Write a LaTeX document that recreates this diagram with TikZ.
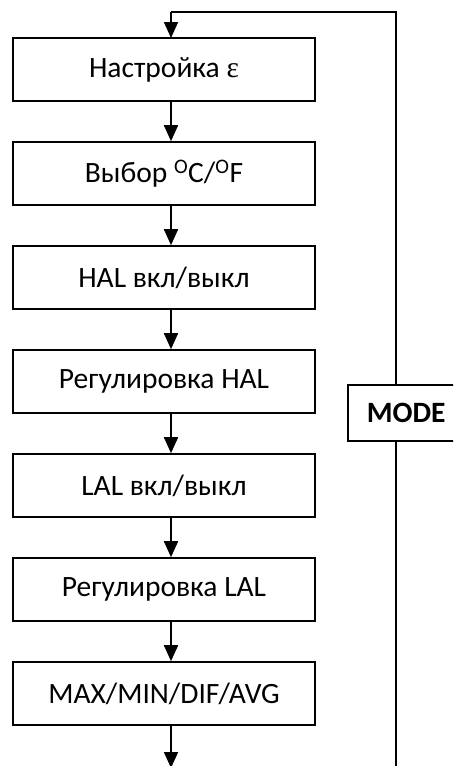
\documentclass[tikz,border=0pt]{standalone}
\usepackage{fontspec}
\setmainfont{Carlito}
\newfontfamily\epsfont{Liberation Serif}
\usetikzlibrary{arrows.meta}
\begin{document}
\begin{tikzpicture}[x=1pt,y=-1pt,
  stepbox/.style={draw,line width=1.6pt,fill=white,minimum width=302pt,minimum height=63pt,inner sep=0pt,font=\fontsize{29.5}{34}\selectfont},
  modebox/.style={draw,line width=1.6pt,fill=white,minimum height=56pt,inner sep=0pt,font=\bfseries\fontsize{29.5}{34}\selectfont},
  flow/.style={line width=1.8pt,-{Triangle[length=16pt,width=14pt]}},
  plain/.style={line width=1.6pt}]
\useasboundingbox (0,0) rectangle (453,766);
\clip (0,0) rectangle (453,766);
\node[stepbox] (b1) at (164,69.5) {Настройка {\epsfont ε}};
\node[stepbox] (b2) at (164,173.5) {Выбор \textsuperscript{O}C/\textsuperscript{O}F};
\node[stepbox] (b3) at (164,277.5) {HAL вкл/выкл};
\node[stepbox] (b4) at (164,381.5) {Регулировка HAL};
\node[stepbox] (b5) at (164,485.5) {LAL вкл/выкл};
\node[stepbox] (b6) at (164,589.5) {Регулировка LAL};
\node[stepbox] (b7) at (164,693.5) {MAX/MIN/DIF/AVG};
\coordinate (end) at (171,768);
\coordinate (rb) at (396,768);
\coordinate (rt) at (396,12);
\coordinate (lt) at (171,12);
\coordinate (in1) at (171,38);
\draw[plain] (rb) -- (rt) -- (lt);
\draw[flow] (lt) -- (in1);
\foreach \a/\b in {b1/b2,b2/b3,b3/b4,b4/b5,b5/b6,b6/b7}{
  \draw[flow] (\a.south -| in1) -- (\b.north -| in1);
}
\draw[flow] (b7.south -| in1) -- (end);
\node[modebox,anchor=north west] (mode) at (347,384) {\hspace*{19pt}MODE\hspace*{30pt}};
\end{tikzpicture}
\end{document}
